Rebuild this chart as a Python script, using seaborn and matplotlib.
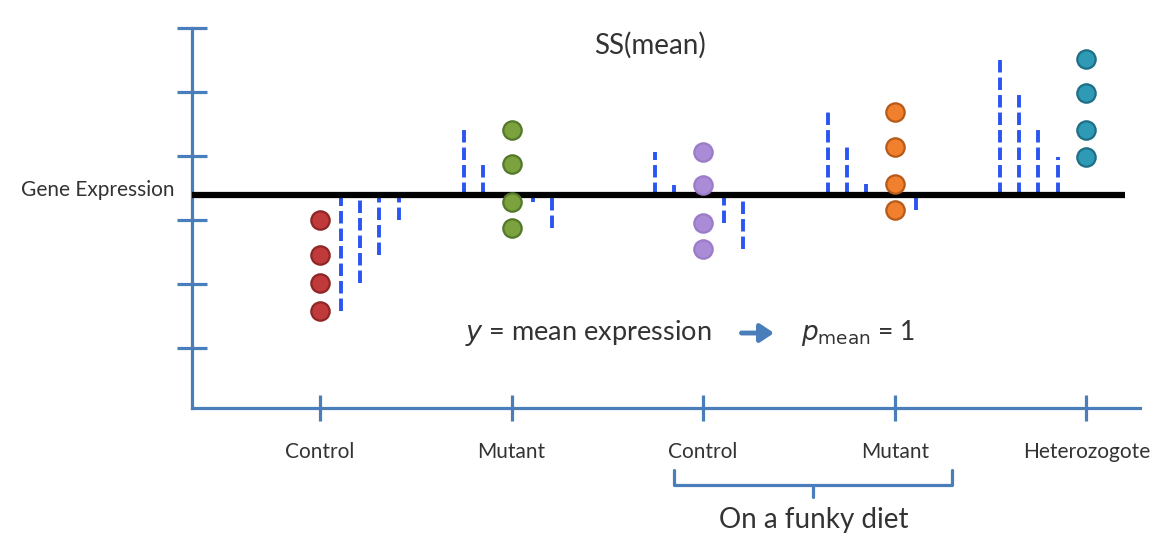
import numpy as np
import pandas as pd
import matplotlib
matplotlib.use("Agg")
import matplotlib.pyplot as plt
import matplotlib.transforms as mtransforms
import seaborn as sns

# group labels along the x axis
groups = ["Control", "Mutant", "Control", "Mutant", "Heterozogote"]
group_pos = [0, 1, 2, 3, 4]

# gene expression per mouse, order decides residual line placement
control_vals = [1.58, 2.02, 2.45, 3.00]
mutant_vals = [4.41, 3.875, 3.28, 2.875]
diet_control_vals = [4.06, 3.55, 2.95, 2.55]
diet_mutant_vals = [4.69, 4.14, 3.56, 3.16]
hetero_vals = [5.52, 4.98, 4.41, 3.98]

mean_expression = 3.39

fills = ["#c0393b", "#7ba23f", "#a98bd6", "#f07f2e", "#2e9ab5"]
edges = ["#8e2626", "#54782a", "#9a7cc8", "#b65a1a", "#1e6e86"]

axis_blue = "#4a7ebb"
dash_blue = "#2b55f0"
text_col = "#333333"

sns.set_theme(style="white")
plt.rcParams["font.family"] = ["Lato", "DejaVu Sans"]

fig = plt.figure(figsize=(11.65, 5.5), dpi=100)
ax = fig.add_axes([192 / 1165, 142 / 550, 948 / 1165, 380 / 550])

all_vals = [control_vals, mutant_vals, diet_control_vals, diet_mutant_vals, hetero_vals]

# residual lines from the mean to each point
dash = (0, (3.2, 1.3))
for pos, vals in zip(group_pos, all_vals):
    above = [v for v in vals if v > mean_expression]
    below = [v for v in vals if v <= mean_expression]
    n_up = len(above)
    for k, v in enumerate(above):
        xl = pos - 0.15 - 0.1 * (n_up - 1 - k)
        ax.vlines(xl, mean_expression, v, color=dash_blue, lw=2.8,
                  linestyle=dash, zorder=2)
    for k, v in enumerate(below):
        xl = pos + 0.11 + 0.1 * k
        ax.vlines(xl, v, mean_expression, color=dash_blue, lw=2.8,
                  linestyle=dash, zorder=2)

# the mean line
ax.plot([-0.668, 4.2], [mean_expression, mean_expression], color="black",
        lw=4.5, solid_capstyle="butt", zorder=3)

# the points
for pos, vals, fc, ec in zip(group_pos, all_vals, fills, edges):
    df = pd.DataFrame({"pos": [pos] * len(vals), "expr": vals})
    sns.scatterplot(data=df, x="pos", y="expr", color=fc, edgecolor=ec,
                    linewidth=1.6, s=175, ax=ax, zorder=4, legend=False)

ax.set_xlim(-0.668, 4.28)
ax.set_ylim(0.0625, 6.0)

for side in ["top", "right"]:
    ax.spines[side].set_visible(False)
for side in ["left", "bottom"]:
    ax.spines[side].set_color(axis_blue)
    ax.spines[side].set_linewidth(2.3)

ax.set_xticks(group_pos)
ax.set_xticklabels(groups, fontsize=15, color=text_col)
ax.set_yticks([1, 2, 3, 4, 5, 6])
ax.set_yticklabels([])
ax.tick_params(axis="both", direction="inout", length=19, width=2.3,
               color=axis_blue, bottom=True, left=True)
ax.tick_params(axis="x", pad=15)
ax.tick_params(axis="y", length=21)
ax.set_xlabel("")
ax.set_ylabel("")

# labels
blend = mtransforms.blended_transform_factory(ax.transAxes, ax.transData)
ax.text(-0.018, mean_expression + 0.08, "Gene Expression", transform=blend,
        ha="right", va="center", fontsize=15, color=text_col)
ax.text(1.723, 5.73, "SS(mean)", ha="center", va="center", fontsize=20,
        color=text_col)

ax.text(0.757, 1.234, "$\\it{y}$ = mean expression", ha="left", va="center",
        fontsize=19.5, color=text_col)
ax.annotate("", xy=(2.37, 1.234), xytext=(2.2, 1.234),
            arrowprops=dict(arrowstyle="-|>,head_length=0.45,head_width=0.3",
                            color=axis_blue, lw=3.5, mutation_scale=18,
                            shrinkA=0, shrinkB=0))
ax.text(2.51, 1.234, "$\\it{p}_{\\mathrm{mean}}$ = 1", ha="left", va="center",
        fontsize=19, color=text_col)

# bracket under the diet groups
xb = mtransforms.blended_transform_factory(ax.transData, ax.transAxes)
bl, br = group_pos[2] - 0.15, group_pos[3] + 0.3
bm = (bl + br) / 2
ax.plot([bl, bl, br, br], [-0.163, -0.203, -0.203, -0.163], transform=xb,
        color=axis_blue, lw=2.3, clip_on=False, solid_joinstyle="round")
ax.plot([bm, bm], [-0.203, -0.234], transform=xb, color=axis_blue, lw=2.3,
        clip_on=False)
ax.text(bm, -0.295, "On a funky diet", transform=xb, ha="center",
        va="center", fontsize=20, color=text_col)

fig.savefig("out.png", dpi=100)
